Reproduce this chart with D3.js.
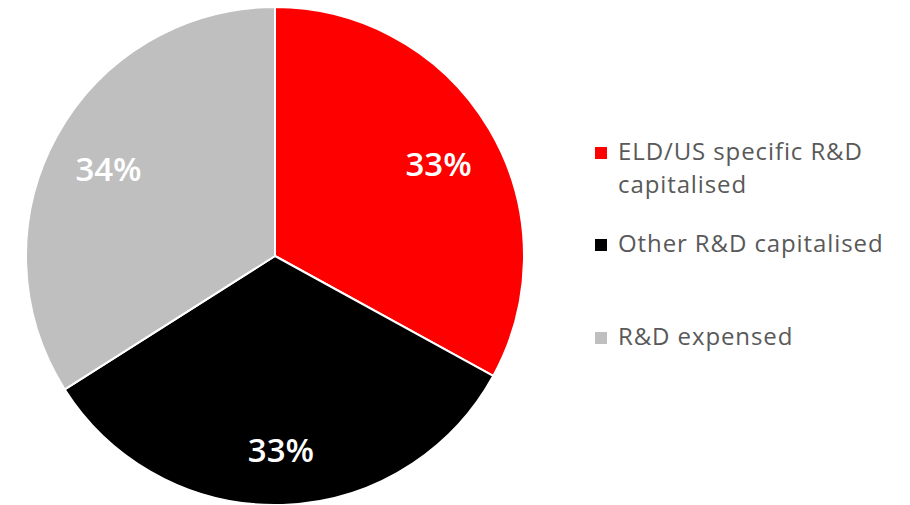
<!DOCTYPE html>
<html>
<head>
<meta charset="utf-8">
<script src="https://cdn.jsdelivr.net/npm/d3@7"></script>
<style>
  html, body { margin: 0; padding: 0; background: #ffffff; }
  svg { display: block; }
</style>
</head>
<body>
<svg id="chart" width="910" height="505"></svg>
<script>
// R&D split: share of spend by treatment
const categories = ["ELD/US specific R&D capitalised", "Other R&D capitalised", "R&D expensed"];
const legendLines = [["ELD/US specific R&D", "capitalised"], ["Other R&D capitalised"], ["R&D expensed"]];
const values = [33, 33, 34];
const colors = ["#ff0000", "#000000", "#bfbfbf"];

const svg = d3.select("#chart");
const cx = 275, cy = 256, r = 249;

const pie = d3.pie().sort(null).value(d => d)(values);
const arc = d3.arc().innerRadius(0).outerRadius(r);
const labelArc = d3.arc().innerRadius(190).outerRadius(190);

const g = svg.append("g").attr("transform", `translate(${cx},${cy})`);

g.selectAll("path.slice")
  .data(pie)
  .join("path")
  .attr("class", "slice")
  .attr("d", arc)
  .attr("fill", (d, i) => colors[i])
  .attr("stroke", "#ffffff")
  .attr("stroke-width", 2)
  .attr("stroke-linejoin", "round");

g.selectAll("text.pct")
  .data(pie)
  .join("text")
  .attr("class", "pct")
  .attr("transform", d => `translate(${labelArc.centroid(d)})`)
  .attr("text-anchor", "middle")
  .attr("dy", "0.5em")
  .attr("fill", "#ffffff")
  .style("font-family", "'Open Sans', sans-serif")
  .style("font-weight", 600)
  .style("font-size", "33px")
  .text(d => d.data + "%");

// Legend
const legendY = [160, 252, 345];
const legend = svg.append("g");
categories.forEach((c, i) => {
  const item = legend.append("g").attr("transform", `translate(595,${legendY[i]})`);
  item.append("rect")
    .attr("x", 0).attr("y", -13)
    .attr("width", 12).attr("height", 12)
    .attr("fill", colors[i]);
  const t = item.append("text")
    .attr("x", 23).attr("y", 0)
    .attr("fill", "#595959")
    .style("font-family", "'Open Sans', sans-serif")
    .style("font-size", "24px")
    .style("letter-spacing", "0.9px");
  legendLines[i].forEach((line, j) => {
    t.append("tspan").attr("x", 23).attr("y", j * 33).text(line);
  });
});
</script>
</body>
</html>
